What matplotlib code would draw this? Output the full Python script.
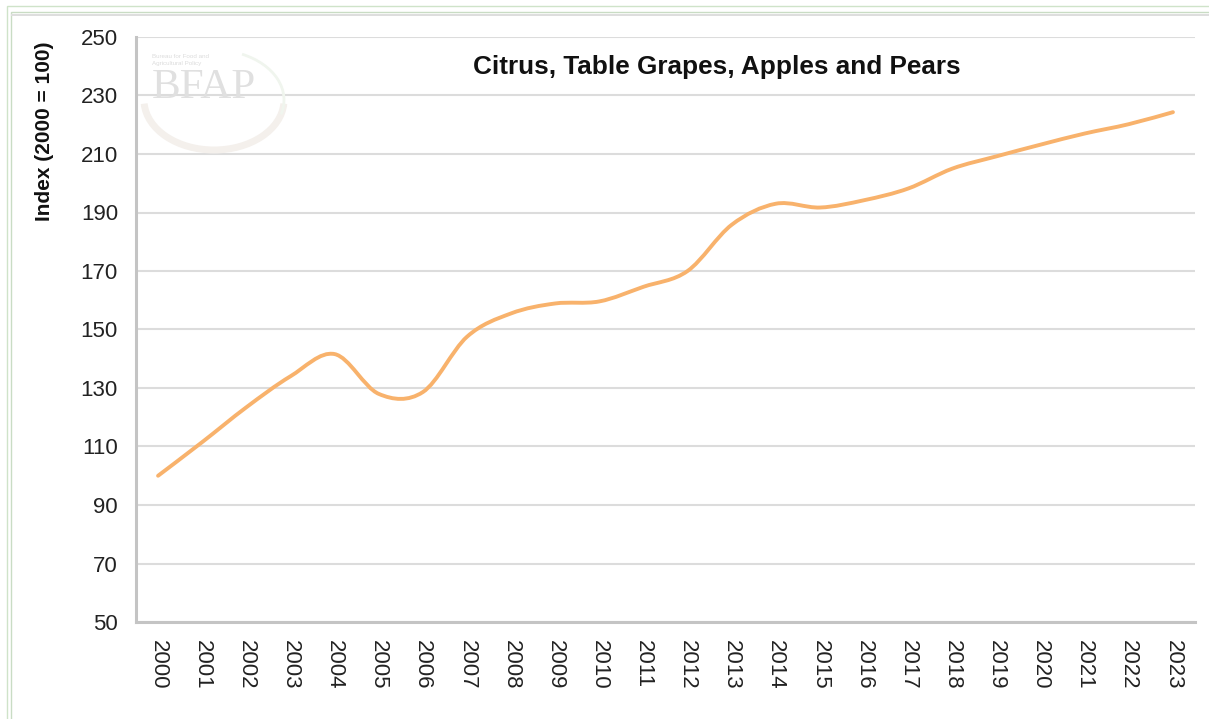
import numpy as np
import matplotlib
matplotlib.use("Agg")
import matplotlib.pyplot as plt
from matplotlib.path import Path
from matplotlib.patches import PathPatch, Rectangle, Arc

plt.rcParams["font.family"] = ["Liberation Sans", "DejaVu Sans"]

years = [str(y) for y in range(2000, 2024)]
index_values = [100.0, 111.5, 123.4, 134.0, 141.6, 128.0, 128.6, 147.5,
                155.5, 158.9, 159.6, 164.6, 170.0, 185.8, 193.0, 191.7,
                194.2, 198.2, 205.0, 209.2, 213.2, 217.0, 220.2, 224.3]
y_ticks = list(range(50, 251, 20))
title = "Citrus, Table Grapes, Apples and Pears"
y_label = "Index (2000 = 100)"


def smooth_path(xs, ys):
    # catmull-rom style bezier, like excel's "smoothed line"
    pts = np.column_stack([xs, ys]).astype(float)
    n = len(pts)
    verts = [pts[0]]
    codes = [Path.MOVETO]
    for i in range(n - 1):
        p0 = pts[max(i - 1, 0)]
        p1 = pts[i]
        p2 = pts[i + 1]
        p3 = pts[min(i + 2, n - 1)]
        c1 = p1 + (p2 - p0) / 6.0
        c2 = p2 - (p3 - p1) / 6.0
        verts += [c1, c2, p2]
        codes += [Path.CURVE4] * 3
    return Path(verts, codes)


W, H = 1209, 719
fig = plt.figure(figsize=(W / 100, H / 100), dpi=100)
fig.patch.set_facecolor("white")

# outer frame of the screenshot
fig.patches.append(Rectangle((7 / W, -0.05), 1.1, 1 - 6 / H + 0.05,
                             transform=fig.transFigure, fill=False,
                             edgecolor="#cfe3c9", lw=1.0))
fig.patches.append(Rectangle((11 / W, -0.05), 1.1, 1 - 12 / H + 0.05,
                             transform=fig.transFigure, fill=False,
                             edgecolor="#c9dcc4", lw=1.0))
fig.patches.append(Rectangle((11 / W, 1 - 16 / H), 1.1, 2 / H,
                             transform=fig.transFigure, color="#dedede", lw=0))

ax = fig.add_axes([136 / W, 1 - 622 / H, (1195 - 136) / W, (622 - 37) / H])
x = np.arange(len(years))

ax.add_patch(PathPatch(smooth_path(x, index_values), fill=False,
                       edgecolor="#f8b26c", lw=2.8, capstyle="round", zorder=3))

ax.set_xlim(-0.5, len(years) - 0.5)
ax.set_ylim(50, 250)
ax.set_yticks(y_ticks)
ax.set_xticks(x)
ax.set_xticklabels(years, rotation=270)
ax.tick_params(axis="both", length=0, labelsize=16, colors="#222222")
ax.tick_params(axis="y", pad=13)
ax.tick_params(axis="x", pad=13)

ax.grid(axis="y", color="#dcdcdc", lw=1.5, zorder=0)
ax.set_axisbelow(True)
for side in ["top", "right"]:
    ax.spines[side].set_visible(False)
for side in ["left", "bottom"]:
    ax.spines[side].set_color("#c4c4c4")
    ax.spines[side].set_linewidth(2.2)

fig.text(717 / W, 1 - 67 / H, title, ha="center", va="center",
         fontsize=18.8, fontweight="bold", color="#111111")
fig.text(44 / W, 1 - 131 / H, y_label, rotation=90, ha="center", va="center",
         fontsize=15, fontweight="bold", color="#111111")

# faint BFAP watermark
fig.patches.append(Arc((214 / W, 1 - 100 / H), 140 / W, 100 / H, theta1=185, theta2=355,
                       transform=fig.transFigure, edgecolor="#f4f0ec", lw=5))
fig.patches.append(Arc((214 / W, 1 - 100 / H), 140 / W, 100 / H, theta1=-20, theta2=70,
                       transform=fig.transFigure, edgecolor="#f0f5ee", lw=2))
fig.text(152 / W, 1 - 98 / H, "BFAP", fontsize=31, family="Liberation Serif",
         color="#e0e0e0", ha="left", va="baseline")
fig.text(152 / W, 1 - 60 / H, "Bureau for Food and\nAgricultural Policy",
         fontsize=4.5, color="#dcdcdc", ha="left", va="center", linespacing=1.3)

fig.savefig("out.png", dpi=100, facecolor="white")
